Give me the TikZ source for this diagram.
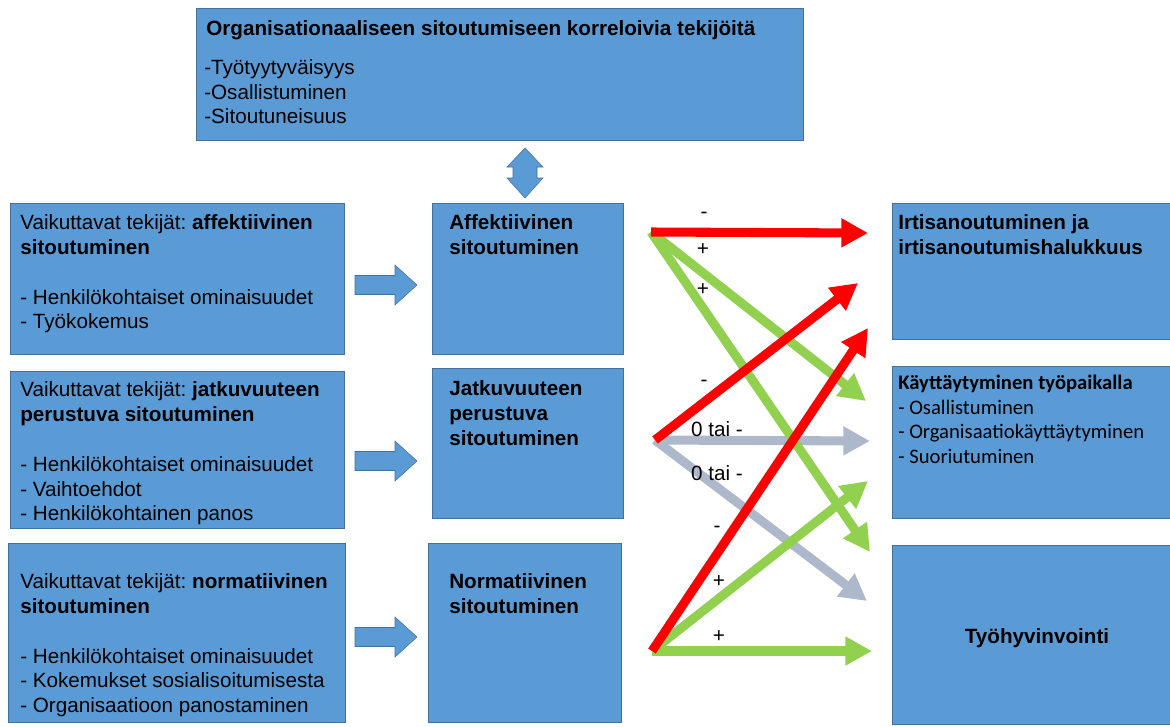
\documentclass[tikz,border=0pt]{standalone}
\usepackage{fontspec}
\setmainfont{Liberation Sans}
\newfontfamily\calfont{Carlito}
\usetikzlibrary{arrows.meta}
\definecolor{boxblue}{HTML}{5B9BD5}
\definecolor{boxedge}{HTML}{41719C}
\definecolor{arrred}{HTML}{FF0000}
\definecolor{arrgreen}{HTML}{92D050}
\definecolor{arrgray}{HTML}{ADB9CA}
\frenchspacing
\begin{document}
\begin{tikzpicture}[x=0.75pt,y=-0.75pt,
  box/.style={draw=boxedge,line width=0.75pt,fill=boxblue,anchor=north west,inner sep=0pt},
  txt/.style={anchor=north west,inner sep=0pt,align=left,font=\fontsize{15.5}{18.6}\selectfont},
  txtb/.style={txt,font=\fontsize{15.5}{18.6}\selectfont\bfseries},
  txtc/.style={anchor=north west,inner sep=0pt,align=left,font=\fontsize{15.5}{18.5}\selectfont\calfont},
  link/.style={line width=6.8pt,-{Triangle[length=20pt,width=20.5pt]}},
  lbl/.style={inner sep=0pt,font=\fontsize{15.5}{18.6}\selectfont},
  blk/.style={fill=boxblue,draw=boxedge,line width=0.4pt}]
\useasboundingbox (0,0) rectangle (1170,726);

% boxes
\node[box,minimum width=607*0.75pt,minimum height=132*0.75pt] (top) at (196,8) {};
\node[box,minimum width=334*0.75pt,minimum height=151*0.75pt] (L1) at (10,203) {};
\node[box,minimum width=334*0.75pt,minimum height=157*0.75pt] (L2) at (10,371) {};
\node[box,minimum width=337*0.75pt,minimum height=179*0.75pt] (L3) at (8,543) {};
\node[box,minimum width=191*0.75pt,minimum height=151*0.75pt] (M1) at (432,203) {};
\node[box,minimum width=191*0.75pt,minimum height=150*0.75pt] (M2) at (432,368) {};
\node[box,minimum width=193*0.75pt,minimum height=179*0.75pt] (M3) at (428,543) {};
\node[box,minimum width=285*0.75pt,minimum height=136*0.75pt] (R1) at (892,203) {};
\node[box,minimum width=285*0.75pt,minimum height=152*0.75pt] (R2) at (892,366) {};
\node[box,minimum width=285*0.75pt,minimum height=179*0.75pt] (R3) at (892,545) {};

% texts
\node[txtb] (toptitle) at ([shift={(10,12.4)}]top.north west) {Organisationaaliseen sitoutumiseen korreloivia tekijöitä};
\node[txt,font=\fontsize{15.5}{18.4}\selectfont] (toplist) at ([shift={(8,51.4)}]top.north west) {-Työtyytyväisyys\\-Osallistuminen\\-Sitoutuneisuus};

\node[txt] (L1t) at ([shift={(10,11.4)}]L1.north west) {Vaikuttavat tekijät: \textbf{affektiivinen}\\\textbf{sitoutuminen}\\[18.6pt]- Henkilökohtaiset ominaisuudet\\- Työkokemus};
\node[txt] (L2t) at ([shift={(10,10.6)}]L2.north west) {Vaikuttavat tekijät: \textbf{jatkuvuuteen}\\\textbf{perustuva sitoutuminen}\\[18.6pt]- Henkilökohtaiset ominaisuudet\\- Vaihtoehdot\\- Henkilökohtainen panos};
\node[txt] (L3t) at ([shift={(12,30.4)}]L3.north west) {Vaikuttavat tekijät: \textbf{normatiivinen}\\\textbf{sitoutuminen}\\[18.6pt]- Henkilökohtaiset ominaisuudet\\- Kokemukset sosialisoitumisesta\\- Organisaatioon panostaminen};

\node[txtb] (M1t) at ([shift={(17,11.4)}]M1.north west) {Affektiivinen\\sitoutuminen};
\node[txtb] (M2t) at ([shift={(17,12.4)}]M2.north west) {Jatkuvuuteen\\perustuva\\sitoutuminen};
\node[txtb] (M3t) at ([shift={(21,30.4)}]M3.north west) {Normatiivinen\\sitoutuminen};

\node[txtb] (R1t) at ([shift={(6,11.4)}]R1.north west) {Irtisanoutuminen ja\\irtisanoutumishalukkuus};
\node[txtc] (R2t) at ([shift={(6,8.7)}]R2.north west) {\textbf{Käyttäytyminen työpaikalla}\\- Osallistuminen\\- Organisaatiokäyttäytyminen\\- Suoriutuminen};
\node[lbl,font=\fontsize{15.5}{18.6}\selectfont\bfseries] (R3t) at (1037,638) {Työhyvinvointi};

% block arrows
\path[blk] (525,148) -- (543,167) -- (537,167) -- (537,178) -- (543,178) -- (525,198)
  -- (507,178) -- (513,178) -- (513,167) -- (507,167) -- cycle;
\foreach \yy in {285,461,637} {
  \path[blk] (355,\yy-9.5) -- (395,\yy-9.5) -- (395,\yy-20) -- (417,\yy) -- (395,\yy+20)
    -- (395,\yy+9.5) -- (355,\yy+9.5) -- cycle;
}

% connector coordinates
\coordinate (A) at (651,232);
\coordinate (B) at (655,440);
\coordinate (C) at (652,651);
\coordinate (tA1) at (868,233);
\coordinate (tA2) at (866,401);
\coordinate (tA3) at (870,552);
\coordinate (tB1) at (858,283);
\coordinate (tB2) at (870,441);
\coordinate (tB3) at (867,601);
\coordinate (tC1) at (868,328);
\coordinate (tC2) at (868,481);
\coordinate (tC3) at (872,651);

% gray
\draw[link,arrgray] (B) -- (tB2);
\draw[link,arrgray] (B) -- (tB3);
% green
\draw[link,arrgreen] (A) -- (tA2);
\draw[link,arrgreen] (A) -- (tA3);
\draw[link,arrgreen] (C) -- (tC2);
\draw[link,arrgreen] (C) -- (tC3);
% red
\draw[link,arrred] (A) -- (tA1);
\draw[link,arrred] (B) -- (tB1);
\draw[link,arrred] (C) -- (tC1);

% labels
\node[lbl] (l1) at (704,215) {-};
\node[lbl] (l2) at (703,250) {+};
\node[lbl] (l3) at (703,290) {+};
\node[lbl] (l4) at (704,383) {-};
\node[lbl] (l5) at (717,429) {0 tai -};
\node[lbl] (l6) at (717,473) {0 tai -};
\node[lbl] (l7) at (717,529) {-};
\node[lbl] (l8) at (719,582) {+};
\node[lbl] (l9) at (719,637) {+};
\end{tikzpicture}
\end{document}
